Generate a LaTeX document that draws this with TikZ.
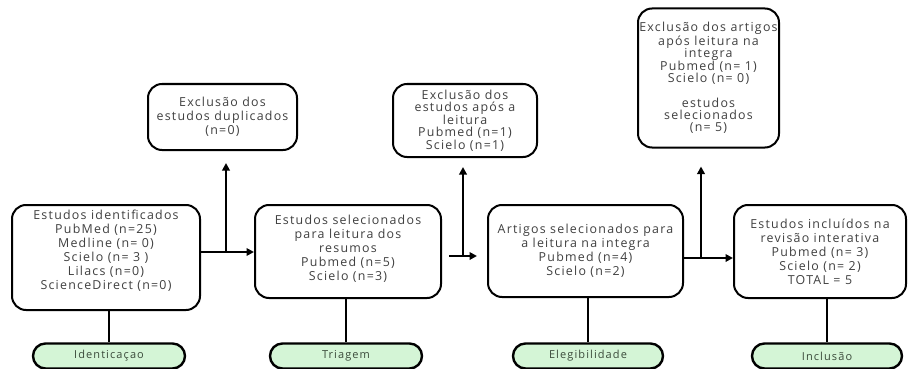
\documentclass[tikz,border=0pt]{standalone}
\usepackage{fontspec}
\setmainfont{Open Sans}[LetterSpace=10]
\usetikzlibrary{arrows.meta,calc}
\definecolor{txt}{HTML}{404040}
\definecolor{pillfill}{HTML}{D4F5D6}
\definecolor{pilltxt}{HTML}{3A4A3A}
\tikzset{
  box/.style={draw=black, line width=2pt, rounded corners=14pt, align=center,
    inner sep=0pt, text=txt, font=\fontsize{12.4}{14}\selectfont},
  pill/.style={draw=black, line width=2.4pt, rounded corners=12.5pt, fill=pillfill,
    minimum height=25pt, inner sep=0pt, text=pilltxt, font=\fontsize{11}{13}\selectfont},
  conn/.style={line width=2.2pt},
  arr/.style={line width=2.2pt, -{Triangle[length=7.5pt,width=7.5pt]}}
}
\begin{document}
\begin{tikzpicture}[x=1pt,y=-1pt]
\useasboundingbox[fill=white] (0,0) rectangle (913,369);
% main boxes
\node[box, minimum width=188pt, minimum height=105pt] (b1) at (106,257.5)
  {\raisebox{6pt}[\height][\depth]{\begin{tabular}{@{}c@{}}Estudos identificados\\PubMed (n=25)\\Medline (n= 0)\\Scielo (n= 3 )\\Lilacs (n=0)\\ScienceDirect (n=0)\end{tabular}}};
\node[box, minimum width=186pt, minimum height=93pt] (b2) at (348,251.5)
  {\raisebox{2pt}[\height][\depth]{\begin{tabular}{@{}c@{}}Estudos selecionados\\para leitura dos\\resumos\\Pubmed (n=5)\\Scielo (n=3)\end{tabular}}};
\node[box, minimum width=195pt, minimum height=92pt] (b3) at (585.5,251)
  {Artigos selecionados para\\a leitura na integra\\Pubmed (n=4)\\Scielo (n=2)};
\node[box, minimum width=172pt, minimum height=93pt] (b4) at (820,251.5)
  {Estudos incluídos na\\revisão interativa\\Pubmed (n= 3)\\Scielo (n= 2)\\TOTAL = 5};
% exclusion boxes
\node[box, minimum width=149pt, minimum height=66pt] (e1) at (222.5,117)
  {Exclusão dos\\estudos duplicados\\(n=0)};
\node[box, minimum width=144pt, minimum height=73pt, font=\fontsize{12.4}{12.5}\selectfont] (e2) at (465,120.5)
  {Exclusão dos\\estudos após a\\leitura\\Pubmed (n=1)\\Scielo (n=1)};
\node[box, minimum width=141pt, minimum height=139pt, font=\fontsize{12.4}{12.2}\selectfont] (e3) at (708.5,78)
  {Exclusão dos artigos\\após leitura na\\integra\\Pubmed (n= 1)\\Scielo (n= 0)\\[12.2pt]estudos\\selecionados\\(n= 5)};
% pills
\node[pill, minimum width=152pt] (p1) at (109,356) {Identicaçao};
\node[pill, minimum width=152pt] (p2) at (346,356) {Triagem};
\node[pill, minimum width=150pt] (p3) at (588,356) {Elegibilidade};
\node[pill, minimum width=150pt] (p4) at (827,356) {Inclusão};
% junctions
\coordinate (j1) at (226,252);
\coordinate (j2) at (463,256);
\coordinate (j3) at (701,258);
% horizontal arrows
\draw[arr] (b1.east |- j1) -- (b2.west |- j1);
\draw[arr, shorten <=7pt, shorten >=10pt] (b2.east |- j2) -- (b3.west |- j2);
\draw[arr] (b3.east |- j3) -- (b4.west |- j3);
% vertical arrows to exclusion boxes
\draw[arr, shorten >=12pt] (j1) -- (j1 |- e1.south);
\draw[arr, shorten >=9pt] (j2) -- (j2 |- e2.south);
\draw[arr, shorten >=18pt] (j3) -- (j3 |- e3.south);
% lines to pills
\draw[conn] (p1.north |- b1.south) -- (p1.north);
\draw[conn] (p2.north |- b2.south) -- (p2.north);
\draw[conn] (p3.north |- b3.south) -- (p3.north);
\draw[conn] (p4.north |- b4.south) -- (p4.north);
\end{tikzpicture}
\end{document}
